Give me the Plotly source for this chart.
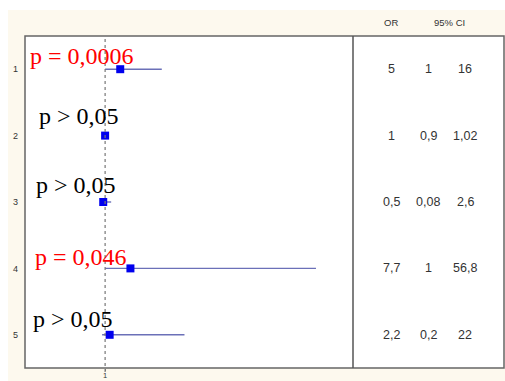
import plotly.graph_objects as go

# Study rows (top to bottom)
rows = [1, 2, 3, 4, 5]
odds_ratio = [5, 1, 0.5, 7.7, 2.2]
ci_low = [1, 0.9, 0.08, 1, 0.2]
ci_high = [16, 1.02, 2.6, 56.8, 22]
or_labels = ["5", "1", "0,5", "7,7", "2,2"]
low_labels = ["1", "0,9", "0,08", "1", "0,2"]
high_labels = ["16", "1,02", "2,6", "56,8", "22"]
p_labels = ["p = 0,0006", "p > 0,05", "p > 0,05", "p = 0,046", "p > 0,05"]
p_colors = ["#ff0000", "#000000", "#000000", "#ff0000", "#000000"]
x_ticks = [1]

# placement of the p-value captions (left edge in px, vertical lift in px)
p_left_px = [28, 37, 34, 33, 31]
p_lift_px = [13, 20, 17, 11, 16]

W, H = 505, 381
ML, MR, MT, MB = 25, 152, 36, 13
plot_w = W - ML - MR

def px_to_paper_x(px):
    return (px - ML) / plot_w

def py_to_paper_y(py):
    return (H - MB - py) / (H - MT - MB)

fig = go.Figure()

# confidence interval whiskers
for r, lo, hi in zip(rows, ci_low, ci_high):
    fig.add_trace(go.Scatter(
        x=[lo, hi], y=[r, r], mode="lines",
        line=dict(color="#6b70b8", width=1.4),
        hoverinfo="skip", showlegend=False,
    ))

# point estimates
fig.add_trace(go.Scatter(
    x=odds_ratio, y=rows, mode="markers",
    marker=dict(symbol="square", size=8, color="#0000ee"),
    showlegend=False,
))

shapes = [
    # cream panel behind the chart
    dict(type="rect", xref="paper", yref="paper",
         x0=px_to_paper_x(8), x1=px_to_paper_x(W + 5),
         y0=py_to_paper_y(H + 5), y1=py_to_paper_y(10),
         fillcolor="#fdf9ee", line=dict(width=0), layer="below"),
    # white body of plot + table
    dict(type="rect", xref="paper", yref="paper",
         x0=0, x1=px_to_paper_x(504), y0=0, y1=1,
         fillcolor="#ffffff", line=dict(color="#666666", width=1.5), layer="below"),
    # divider between plot and table
    dict(type="line", xref="paper", yref="paper",
         x0=1, x1=1, y0=0, y1=1, line=dict(color="#555555", width=1.5)),
    # reference line at OR = 1
    dict(type="line", xref="x", yref="paper",
         x0=1, x1=1, y0=py_to_paper_y(372), y1=1,
         line=dict(color="#777777", width=1.2, dash="dot")),
]

annotations = []
for r, t, c, lx, lift in zip(rows, p_labels, p_colors, p_left_px, p_lift_px):
    annotations.append(dict(
        x=px_to_paper_x(lx), y=r, xref="paper", yref="y", yshift=lift,
        text=t, showarrow=False, xanchor="left", yanchor="middle",
        font=dict(family="Liberation Serif", size=24, color=c),
    ))

col_x = [px_to_paper_x(391), px_to_paper_x(428), px_to_paper_x(465)]
for r, a, b, c in zip(rows, or_labels, low_labels, high_labels):
    for xc, t in zip(col_x, [a, b, c]):
        annotations.append(dict(
            x=xc, y=r, xref="paper", yref="y", text=t, showarrow=False,
            xanchor="center", yanchor="middle",
            font=dict(family="Liberation Sans", size=12.5, color="#333333"),
        ))

for xc, t in [(px_to_paper_x(391), "OR"), (px_to_paper_x(449), "95% CI")]:
    annotations.append(dict(
        x=xc, y=py_to_paper_y(23), xref="paper", yref="paper", text=t,
        showarrow=False, xanchor="center", yanchor="middle",
        font=dict(family="Liberation Sans", size=9.5, color="#333333"),
    ))

# x tick label, tucked into the thin strip below the frame
for v in x_ticks:
    annotations.append(dict(
        x=v, y=py_to_paper_y(375.5), xref="x", yref="paper", text=str(v),
        showarrow=False, xanchor="center", yanchor="middle",
        font=dict(family="Liberation Sans", size=7.5, color="#333333"),
    ))

fig.update_layout(
    width=W, height=H,
    margin=dict(l=ML, r=MR, t=MT, b=MB, autoexpand=False),
    paper_bgcolor="#ffffff", plot_bgcolor="rgba(0,0,0,0)",
    shapes=shapes, annotations=annotations,
    xaxis=dict(range=[-20.2, 66.6], tickvals=x_ticks, showticklabels=False,
               ticks="outside", ticklen=2, tickcolor="#777777",
               automargin=False,
               showgrid=False, zeroline=False, showline=False),
    yaxis=dict(range=[5.5, 0.5], tickvals=rows, ticktext=[str(r) for r in rows],
               ticks="", showgrid=False, zeroline=False, showline=False,
               ticklabelstandoff=6, automargin=False,
               tickfont=dict(family="Liberation Sans", size=9, color="#333333")),
)

fig.write_html("out.html")
